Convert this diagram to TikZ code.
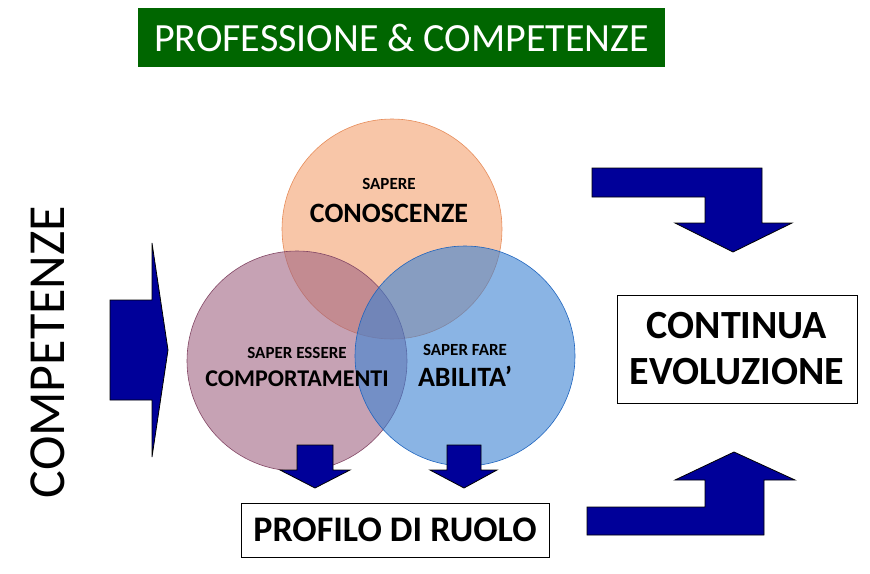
\documentclass[tikz,border=0pt]{standalone}
\usepackage{fontspec}
\setmainfont{Carlito}
\begin{document}
\begin{tikzpicture}[x=1pt,y=-1pt,
  arr/.style={fill={rgb,255:red,0;green,0;blue,153},draw=black,line width=0.8pt,line join=miter},
  circ/.style={draw,line width=0.6pt,fill opacity=0.6},
  lbl/.style={align=center,font=\bfseries,text=black}]
\useasboundingbox (0,0) rectangle (870,573);
\node[fill={rgb,255:red,0;green,102;blue,0},minimum width=527pt,minimum height=59pt,text=white,font=\fontsize{40}{44}\selectfont] (title) at (401.5,37.5) {PROFESSIONE \& COMPETENZE};
\draw[circ,fill={rgb,255:red,244;green,160;blue,110},draw={rgb,255:red,230;green,140;blue,90}] (392,229) circle (110);
\draw[circ,fill={rgb,255:red,160;green,100;blue,130},draw={rgb,255:red,130;green,70;blue,100}] (297,361) circle (110);
\draw[circ,fill={rgb,255:red,60;green,130;blue,210},draw={rgb,255:red,30;green,100;blue,190}] (465,356) circle (110);
\node[lbl,font=\bfseries\fontsize{17}{20}\selectfont] (sap1) at (389,184) {SAPERE};
\node[lbl,font=\bfseries\fontsize{28}{32}\selectfont] (sap2) at (389,213) {CONOSCENZE};
\node[lbl,font=\bfseries\fontsize{17}{20}\selectfont] (ess1) at (297,353) {SAPER ESSERE};
\node[lbl,font=\bfseries\fontsize{24}{28}\selectfont] (ess2) at (297,379) {COMPORTAMENTI};
\node[lbl,font=\bfseries\fontsize{17}{20}\selectfont] (far1) at (465,350) {SAPER FARE};
\node[lbl,font=\bfseries\fontsize{28}{32}\selectfont] (far2) at (465,376) {ABILITA'};
\node[draw,line width=1pt,minimum width=240pt,minimum height=108pt,font=\bfseries\fontsize{40}{46}\selectfont,align=center] (evo) at (737,349) {CONTINUA\\EVOLUZIONE};
\node[draw,line width=1pt,minimum width=308pt,minimum height=54pt,font=\bfseries\fontsize{36}{40}\selectfont] (prof) at (395,530) {PROFILO DI RUOLO};
\node[rotate=90,font=\fontsize{52}{56}\selectfont] (comp) at (48,352) {COMPETENZE};
\draw[arr] (110,300) -- (152,300) -- (152,243) -- (168,350) -- (152,457) -- (152,400) -- (110,400) -- cycle;
\draw[arr] (592,168) -- (762,168) -- (762,223) -- (792,223) -- (733,252) -- (675,223) -- (705,223) -- (705,197) -- (592,197) -- cycle;
\draw[arr] (587,535) -- (764,535) -- (764,480) -- (795,480) -- (734,452) -- (675,480) -- (705,480) -- (705,507) -- (587,507) -- cycle;
\draw[arr] (297,445) -- (333,445) -- (333,470) -- (350,470) -- (315,488) -- (280,470) -- (297,470) -- cycle;
\draw[arr] (447,445) -- (481,445) -- (481,470) -- (497,470) -- (464,488) -- (430,470) -- (447,470) -- cycle;
\end{tikzpicture}
\end{document}
